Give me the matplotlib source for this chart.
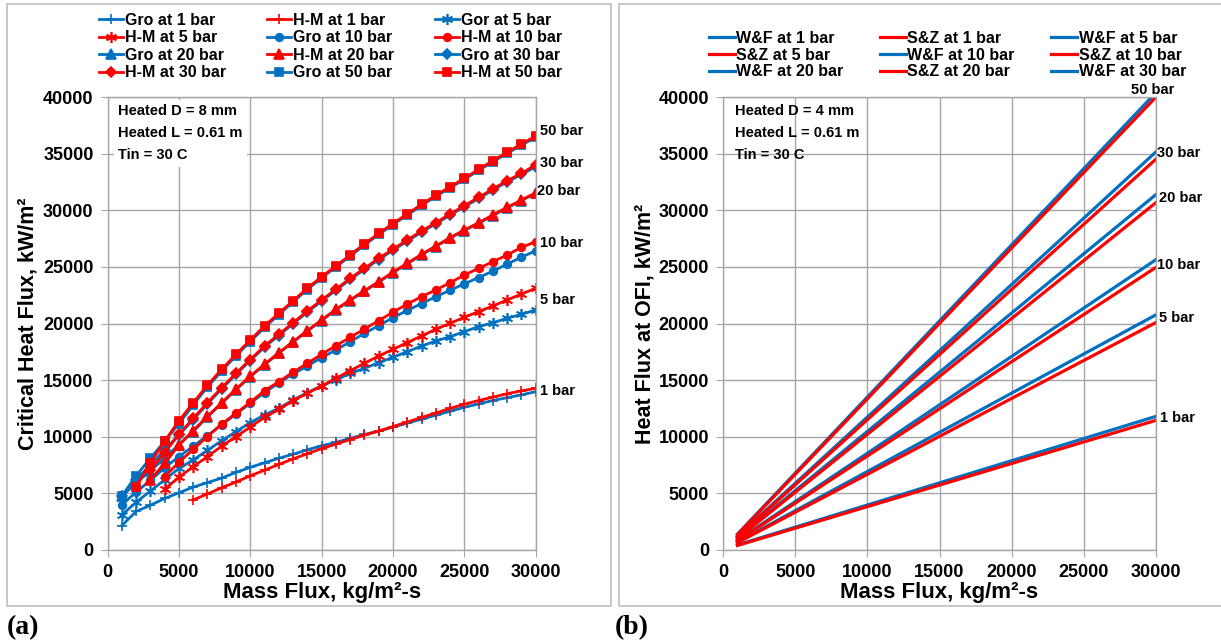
import matplotlib
matplotlib.use("Agg")
import matplotlib.pyplot as plt
from matplotlib.patches import Rectangle

plt.rcParams["font.family"] = ["Liberation Sans", "DejaVu Sans"]
plt.rcParams["font.weight"] = "bold"

BLUE = "#0070C0"
RED = "#FF0000"
GRID = "#A6A6A6"

# ---------------------------------------------------
# Data, panel (a): critical heat flux, kW/m2
# ---------------------------------------------------

mass_flux = [1000, 2000, 3000, 4000, 5000, 6000, 7000, 8000, 9000, 10000,
             11000, 12000, 13000, 14000, 15000, 16000, 17000, 18000, 19000, 20000,
             21000, 22000, 23000, 24000, 25000, 26000, 27000, 28000, 29000, 30000]

gro_1 = [2150, 3400, 3950, 4550, 5050, 5550, 5950, 6350, 6850, 7300,
         7700, 8100, 8450, 8850, 9200, 9500, 9850, 10200, 10500, 10850,
         11200, 11550, 11900, 12250, 12600, 12900, 13200, 13450, 13700, 13980]
hm_1 = [4420, 4950, 5500, 6000, 6550, 7050, 7550, 8050, 8500, 8950,
        9350, 9750, 10150, 10500, 10900, 11300, 11700, 12100, 12500, 12870,
        13200, 13500, 13800, 14050, 14280]  # from 6000

gro_5 = [3100, 4200, 5200, 6200, 7200, 7950, 8800, 9650, 10450, 11250,
         11920, 12510, 13250, 13890, 14510, 15010, 15600, 16040, 16540, 17020,
         17510, 18010, 18450, 18840, 19280, 19720, 20070, 20460, 20810, 21200]
hm_5 = [5360, 6420, 7360, 8240, 9180, 10010, 10850, 11720, 12420, 13190,
        13840, 14480, 15160, 15830, 16490, 17130, 17720, 18310, 18900, 19490,
        20020, 20550, 21050, 21550, 22080, 22600, 23110]  # from 4000

gro_10 = [4000, 5100, 6150, 7250, 8250, 9150, 10100, 11050, 12000, 12950,
          13900, 14750, 15540, 16250, 16980, 17660, 18390, 19130, 19810, 20520,
          21150, 21760, 22360, 22940, 23500, 24060, 24620, 25250, 25850, 26430]
hm_10 = [6470, 7740, 8890, 10010, 11130, 12070, 13040, 14070, 14860, 15690,
         16490, 17280, 18040, 18780, 19510, 20250, 21000, 21720, 22370, 22960,
         23600, 24280, 24870, 25460, 26050, 26730, 27220]  # from 4000

gro_20 = [4750, 5900, 7000, 8100, 9300, 10450, 11750, 12950, 14150, 15300,
          16350, 17370, 18350, 19320, 20260, 21200, 22030, 22850, 23650, 24490,
          25260, 26060, 26790, 27530, 28210, 28850, 29530, 30210, 30850, 31500]
hm_20 = [6180, 7650, 9250, 10550, 11800, 13000, 14200, 15350, 16400, 17420,
         18400, 19370, 20310, 21250, 22080, 22900, 23700, 24540, 25310, 26110,
         26840, 27580, 28260, 28900, 29580, 30260, 30900, 31550]  # from 3000

gro_30 = [4750, 6200, 7500, 8850, 10150, 11500, 12900, 14230, 15500, 16720,
          17910, 18940, 19970, 21000, 21980, 22920, 23890, 24770, 25650, 26470,
          27270, 28070, 28800, 29570, 30300, 31040, 31780, 32510, 33160, 33850]
hm_30 = [7060, 8590, 10210, 11620, 13010, 14330, 15600, 16820, 18010, 19040,
         20070, 21100, 22080, 23020, 23990, 24870, 25750, 26570, 27370, 28170,
         28900, 29670, 30400, 31140, 31880, 32610, 33260, 34000]  # from 3000

gro_50 = [4750, 6550, 8100, 9600, 11150, 12800, 14400, 15800, 17150, 18400,
          19650, 20780, 21900, 23000, 24020, 24980, 25950, 26920, 27860, 28730,
          29570, 30420, 31220, 31980, 32720, 33510, 34280, 35020, 35750, 36430]
hm_50 = [5600, 7700, 9600, 11400, 13000, 14550, 15950, 17280, 18540, 19780,
         20900, 22010, 23110, 24130, 25080, 26050, 27020, 27960, 28830, 29670,
         30520, 31320, 32080, 32820, 33610, 34380, 35120, 35850, 36550]  # from 2000

# ---------------------------------------------------
# Data, panel (b): heat flux at OFI, kW/m2 (straight lines)
# ---------------------------------------------------

mass_flux_ofi = [1000, 30000]
pressures = ["1", "5", "10", "20", "30", "50"]
wf_ofi = [[450, 11800], [700, 20770], [850, 25640],
          [1050, 31390], [1200, 35160], [1400, 40400]]
sz_ofi = [[400, 11450], [650, 20090], [800, 24960],
          [1000, 30680], [1150, 34520], [1350, 40000]]

fig = plt.figure(figsize=(12.21, 6.44), dpi=100)

# panel frames
for x0, w in [(7, 604), (619, 610)]:
    fig.add_artist(Rectangle((x0 / 1221, 38 / 644), w / 1221, 602 / 644,
                             transform=fig.transFigure, fill=False,
                             edgecolor="#BFBFBF", linewidth=1.2))

ax1 = fig.add_axes([107.5 / 1221, 94 / 644, 428.2 / 1221, 453 / 644])
ax2 = fig.add_axes([723 / 1221, 94 / 644, 433 / 1221, 453 / 644])


def style_axes(ax, ylabel, ylab_x):
    ax.set_xlim(0, 30000)
    ax.set_ylim(0, 40000)
    ax.set_xticks(range(0, 30001, 5000))
    ax.set_yticks(range(0, 40001, 5000))
    ax.grid(True, color=GRID, linewidth=1.0)
    ax.set_axisbelow(True)
    for side in ax.spines.values():
        side.set_color(GRID)
        side.set_linewidth(1.0)
    ax.tick_params(direction="out", length=5, color=GRID, labelsize=13, pad=5)
    for lab in ax.get_xticklabels() + ax.get_yticklabels():
        lab.set_fontweight("bold")
    ax.set_xlabel("Mass Flux, kg/m²-s", fontsize=16, fontweight="bold")
    ax.set_ylabel(ylabel, fontsize=15.5, fontweight="bold")
    ax.xaxis.set_label_coords(0.5, -0.07)
    ax.yaxis.set_label_coords(ylab_x, 0.5)


# ---------------------------------------------------
# Panel (a)
# ---------------------------------------------------

lw = 2.0
ms = 5.5
star = (6, 2, 0)
series = [
    ("Gro at 1 bar", mass_flux, gro_1, BLUE, "+", 7),
    ("H-M at 1 bar", mass_flux[5:], hm_1, RED, "+", 7),
    ("Gor at 5 bar", mass_flux, gro_5, BLUE, star, 8),
    ("H-M at 5 bar", mass_flux[3:], hm_5, RED, star, 8),
    ("Gro at 10 bar", mass_flux, gro_10, BLUE, "o", ms),
    ("H-M at 10 bar", mass_flux[3:], hm_10, RED, "o", ms),
    ("Gro at 20 bar", mass_flux, gro_20, BLUE, "^", ms + 1),
    ("H-M at 20 bar", mass_flux[2:], hm_20, RED, "^", ms + 1),
    ("Gro at 30 bar", mass_flux, gro_30, BLUE, "D", ms - 0.5),
    ("H-M at 30 bar", mass_flux[2:], hm_30, RED, "D", ms - 0.5),
    ("Gro at 50 bar", mass_flux, gro_50, BLUE, "s", ms),
    ("H-M at 50 bar", mass_flux[1:], hm_50, RED, "s", ms),
]

handles = []
for label, x, y, color, marker, size in series:
    h, = ax1.plot(x, y, color=color, linewidth=lw, marker=marker,
                  markersize=size, markeredgewidth=1.2, label=label)
    handles.append(h)

style_axes(ax1, "Critical Heat Flux, kW/m²", -0.16)

# legend is read row by row in the reference, matplotlib fills by column
order = [0, 3, 6, 9, 1, 4, 7, 10, 2, 5, 8, 11]
ax1.legend([handles[i] for i in order], [handles[i].get_label() for i in order],
           ncol=3, frameon=False, loc="upper left",
           bbox_to_anchor=(99 / 1221, 1 - 13 / 644),
           bbox_transform=fig.transFigure, fontsize=11.5, borderpad=0,
           borderaxespad=0, handlelength=1.5, handletextpad=0.1,
           columnspacing=2.6, labelspacing=0.15)

ax1.text(0.025, 0.985, "Heated D = 8 mm\nHeated L = 0.61 m\nTin = 30 C",
         transform=ax1.transAxes, ha="left", va="top", fontsize=10.5,
         linespacing=1.75,
         bbox=dict(facecolor="white", edgecolor="none", pad=3))

left_tags = [("50 bar", 30300, 37000), ("30 bar", 30300, 34170),
             ("20 bar", 30100, 31700), ("10 bar", 30300, 27100),
             ("5 bar", 30300, 22100), ("1 bar", 30300, 14040)]
for txt, x, y in left_tags:
    ax1.text(x, y, txt, ha="left", va="center", fontsize=10.5, clip_on=False)

# ---------------------------------------------------
# Panel (b)
# ---------------------------------------------------

handles2 = []
for p, wf, sz in zip(pressures, wf_ofi, sz_ofi):
    h1, = ax2.plot(mass_flux_ofi, wf, color=BLUE, linewidth=2.3,
                   label=f"W&F at {p} bar")
    h2, = ax2.plot(mass_flux_ofi, sz, color=RED, linewidth=2.3,
                   label=f"S&Z at {p} bar")
    handles2 += [h1, h2]

style_axes(ax2, "Heat Flux at OFI, kW/m²", -0.157)

order2 = [0, 3, 6, 1, 4, 7, 2, 5, 8]
ax2.legend([handles2[i] for i in order2], [handles2[i].get_label() for i in order2],
           ncol=3, frameon=False, loc="upper left",
           bbox_to_anchor=(709 / 1221, 1 - 31 / 644),
           bbox_transform=fig.transFigure, fontsize=11.5, borderpad=0,
           borderaxespad=0, handlelength=1.6, handletextpad=0.1,
           columnspacing=2.3, labelspacing=0.1)

ax2.text(0.028, 0.985, "Heated D = 4 mm\nHeated L = 0.61 m\nTin = 30 C",
         transform=ax2.transAxes, ha="left", va="top", fontsize=10.5,
         linespacing=1.75)

right_tags = [("50 bar", 28250, 40650), ("30 bar", 30050, 35030),
              ("20 bar", 30200, 31050), ("10 bar", 30080, 25170),
              ("5 bar", 30200, 20460), ("1 bar", 30300, 11660)]
for txt, x, y in right_tags:
    ax2.text(x, y, txt, ha="left", va="center", fontsize=10.5, clip_on=False)

fig.text(7 / 1221, 1 - 628 / 644, "(a)", family="Liberation Serif",
         fontweight="bold", fontsize=20, va="center", ha="left")
fig.text(615 / 1221, 1 - 628 / 644, "(b)", family="Liberation Serif",
         fontweight="bold", fontsize=20, va="center", ha="left")

fig.savefig("out.png", dpi=100)
